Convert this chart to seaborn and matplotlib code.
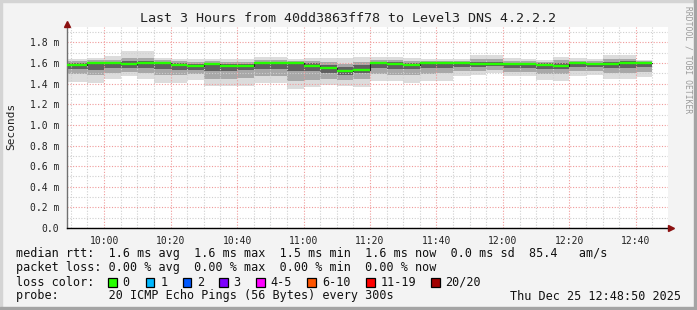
import matplotlib
matplotlib.use("Agg")
import matplotlib.pyplot as plt
import seaborn as sns
import pandas as pd
from matplotlib.patches import Rectangle

# ---------------- data ----------------
title = "Last 3 Hours from 40dd3863ff78 to Level3 DNS 4.2.2.2"
window_start = "09:48:50"
window_right = "12:49:40"
block_end = ["09:55", "10:00", "10:05", "10:10", "10:15", "10:20", "10:25", "10:30",
             "10:35", "10:40", "10:45", "10:50", "10:55", "11:00", "11:05", "11:10",
             "11:15", "11:20", "11:25", "11:30", "11:35", "11:40", "11:45", "11:50",
             "11:55", "12:00", "12:05", "12:10", "12:15", "12:20", "12:25", "12:30",
             "12:35", "12:40", "12:45"]
# RTT in milliseconds
median_rtt = [1.586, 1.605, 1.605, 1.592, 1.605, 1.605, 1.583, 1.576, 1.592, 1.576,
              1.576, 1.605, 1.605, 1.605, 1.576, 1.553, 1.527, 1.537, 1.605, 1.589,
              1.586, 1.605, 1.599, 1.599, 1.592, 1.589, 1.589, 1.592, 1.583, 1.573,
              1.605, 1.592, 1.592, 1.605, 1.605]
rtt_max = [1.64, 1.65, 1.67, 1.72, 1.72, 1.65, 1.637, 1.637, 1.64, 1.637,
           1.637, 1.663, 1.663, 1.637, 1.65, 1.645, 1.65, 1.663, 1.663, 1.663,
           1.65, 1.637, 1.637, 1.637, 1.683, 1.683, 1.65, 1.637, 1.63, 1.663,
           1.65, 1.637, 1.683, 1.683, 1.63]
rtt_min = [1.42, 1.405, 1.45, 1.47, 1.45, 1.41, 1.41, 1.437, 1.379, 1.379,
           1.379, 1.41, 1.405, 1.353, 1.366, 1.385, 1.379, 1.366, 1.43, 1.43,
           1.41, 1.43, 1.43, 1.476, 1.48, 1.50, 1.476, 1.47, 1.437, 1.43,
           1.476, 1.48, 1.443, 1.443, 1.463]
rtt_p90 = [1.62, 1.63, 1.63, 1.65, 1.65, 1.63, 1.62, 1.61, 1.62, 1.61,
           1.61, 1.63, 1.63, 1.62, 1.62, 1.61, 1.59, 1.61, 1.63, 1.63,
           1.62, 1.62, 1.62, 1.62, 1.64, 1.64, 1.62, 1.62, 1.61, 1.63,
           1.62, 1.62, 1.64, 1.64, 1.62]
rtt_p10 = [1.49, 1.48, 1.50, 1.51, 1.50, 1.48, 1.48, 1.49, 1.45, 1.45,
           1.46, 1.47, 1.47, 1.43, 1.44, 1.45, 1.44, 1.45, 1.49, 1.48,
           1.48, 1.49, 1.50, 1.52, 1.52, 1.53, 1.51, 1.51, 1.49, 1.49,
           1.52, 1.52, 1.50, 1.50, 1.51]
rtt_p75 = [1.60, 1.61, 1.61, 1.62, 1.62, 1.61, 1.60, 1.59, 1.60, 1.59,
           1.59, 1.61, 1.61, 1.61, 1.60, 1.58, 1.56, 1.58, 1.61, 1.61,
           1.60, 1.61, 1.61, 1.61, 1.61, 1.61, 1.60, 1.60, 1.60, 1.60,
           1.61, 1.60, 1.61, 1.62, 1.61]
rtt_p25 = [1.54, 1.53, 1.55, 1.55, 1.55, 1.54, 1.53, 1.53, 1.52, 1.52,
           1.53, 1.54, 1.54, 1.52, 1.52, 1.50, 1.48, 1.50, 1.55, 1.54,
           1.54, 1.55, 1.55, 1.56, 1.56, 1.57, 1.55, 1.55, 1.54, 1.54,
           1.56, 1.56, 1.55, 1.55, 1.56]

x_tick_labels = ["10:00", "10:20", "10:40", "11:00", "11:20", "11:40", "12:00", "12:20", "12:40"]
y_tick_values = [0.0, 0.2, 0.4, 0.6, 0.8, 1.0, 1.2, 1.4, 1.6, 1.8]
y_tick_labels = ["0.0", "0.2 m", "0.4 m", "0.6 m", "0.8 m", "1.0 m", "1.2 m", "1.4 m", "1.6 m", "1.8 m"]

legend_rtt = "median rtt:  1.6 ms avg  1.6 ms max  1.5 ms min  1.6 ms now  0.0 ms sd  85.4   am/s"
legend_loss = "packet loss: 0.00 % avg  0.00 % max  0.00 % min  0.00 % now"
loss_labels = ["0", "1", "2", "3", "4-5", "6-10", "11-19", "20/20"]
loss_colors = ["#26ff00", "#00b8ff", "#0059ff", "#7e00ff", "#ff00ff", "#ff5500", "#ff0000", "#a10000"]
probe_text = "probe:       20 ICMP Echo Pings (56 Bytes) every 300s"
stamp_text = "Thu Dec 25 12:48:50 2025"


def to_min(s):
    parts = [int(p) for p in s.split(":")]
    return parts[0] * 60 + parts[1] + (parts[2] / 60 if len(parts) > 2 else 0)


x0 = to_min(window_start)
xs = [x0] + [to_min(t) for t in block_end]

def stepped(v):
    return [v[0]] + list(v)

# ---------------- figure ----------------
sns.set_theme(style="white")
plt.rcParams["font.family"] = ["DejaVu Sans Mono", "DejaVu Sans"]

W, H = 697, 310
fig = plt.figure(figsize=(W / 100, H / 100), dpi=100, facecolor="#f3f3f3")
ax = fig.add_axes([67 / W, (H - 228) / H, 601 / W, 201 / H])
ax.set_facecolor("white")

# smoke bands
ax.fill_between(xs, stepped(rtt_min), stepped(rtt_max), step="pre", color="#dcdcdc", lw=0, zorder=1)
ax.fill_between(xs, stepped(rtt_p10), stepped(rtt_p90), step="pre", color="#a8a8a8", lw=0, zorder=1)
ax.fill_between(xs, stepped(rtt_p25), stepped(rtt_p75), step="pre", color="#606060", lw=0, zorder=1)

df = pd.DataFrame({"t": xs, "median": stepped(median_rtt)})
sns.lineplot(data=df, x="t", y="median", drawstyle="steps-pre", color="#202020",
             lw=0.8, ax=ax, zorder=3)
ax.hlines(median_rtt, xs[:-1], xs[1:], color=loss_colors[0], lw=1.7, zorder=4)

ax.set_xlim(x0, to_min(window_right))
ax.set_ylim(0, 1.95)

major_x = [to_min(t) for t in x_tick_labels]
ax.set_xticks(major_x)
ax.set_xticklabels(x_tick_labels)
ax.set_xticks([m for m in range(590, 770, 5)], minor=True)
ax.set_yticks(y_tick_values)
ax.set_yticklabels(y_tick_labels)
ax.set_yticks([0.1 * k for k in range(1, 20, 2)], minor=True)

ax.grid(which="minor", color="#cfcfcf", linestyle=(0, (1, 1.5)), lw=0.8)
ax.grid(which="major", color="#f09a9a", linestyle=(0, (1, 1.5)), lw=0.8)
ax.set_axisbelow("line")

ax.tick_params(axis="both", which="major", direction="out", length=3, width=0.8,
               colors="#555555", labelcolor="#222222", labelsize=7, pad=2.5)
ax.tick_params(axis="both", which="minor", length=0)
ax.tick_params(axis="x", which="major", pad=4, length=2)
ax.set_xlabel("")
ax.set_ylabel("")

for side in ["top", "right"]:
    ax.spines[side].set_visible(False)
ax.spines["left"].set_color("#707070")
ax.spines["left"].set_linewidth(1.0)
ax.spines["bottom"].set_color("#000000")
ax.spines["bottom"].set_linewidth(1.0)

# axis arrows
ax.plot([0], [1 + 3 / 201], marker="^", ms=5, color="#8b1010", transform=ax.transAxes,
        clip_on=False, zorder=6)
ax.plot([1 + 3 / 601], [0], marker=">", ms=5, color="#8b1010", transform=ax.transAxes,
        clip_on=False, zorder=6)

# texts
def ftext(x, y, s, **kw):
    fig.text(x / W, 1 - y / H, s, **kw)

ftext(348, 18, title, ha="center", va="center", fontsize=9.6, color="#222222")
ftext(11, 126, "Seconds", rotation=90, ha="center", va="center", fontsize=8, color="#222222")
ftext(688, 60, "RRDTOOL / TOBI OETIKER", rotation=270, ha="center", va="center",
      fontsize=5.8, color="#9a9a9a")

ftext(16, 254, legend_rtt, ha="left", va="center", fontsize=8.5, color="#111111")
ftext(16, 268, legend_loss, ha="left", va="center", fontsize=8.5, color="#111111")
ftext(16, 282, "loss color:", ha="left", va="center", fontsize=8.5, color="#111111")
box_x = [108, 145.7, 182.7, 219, 256, 307.3, 366, 431]
for bx, lab, col in zip(box_x, loss_labels, loss_colors):
    fig.patches.append(Rectangle((bx / W, 1 - 286.5 / H), 8.5 / W, 8.5 / H,
                                 transform=fig.transFigure, facecolor=col,
                                 edgecolor="black", lw=0.9))
    ftext(bx + 14.5, 282, lab, ha="left", va="center", fontsize=8.5, color="#111111")
ftext(16, 296, probe_text, ha="left", va="center", fontsize=8.5, color="#111111")
ftext(681, 296, stamp_text, ha="right", va="center", fontsize=8.5, color="#111111")

# 3D frame
fig.patches.append(Rectangle((0, 0), 1, 3 / H, transform=fig.transFigure, color="#a4a4a4", zorder=10))
fig.patches.append(Rectangle((1 - 3 / W, 0), 3 / W, 1, transform=fig.transFigure, color="#a4a4a4", zorder=10))
fig.patches.append(Rectangle((0, 1 - 2 / H), 1, 2 / H, transform=fig.transFigure, color="#d4d4d4", zorder=9))
fig.patches.append(Rectangle((0, 0), 2 / W, 1, transform=fig.transFigure, color="#d4d4d4", zorder=9))

fig.savefig("out.png", dpi=100, facecolor=fig.get_facecolor())
